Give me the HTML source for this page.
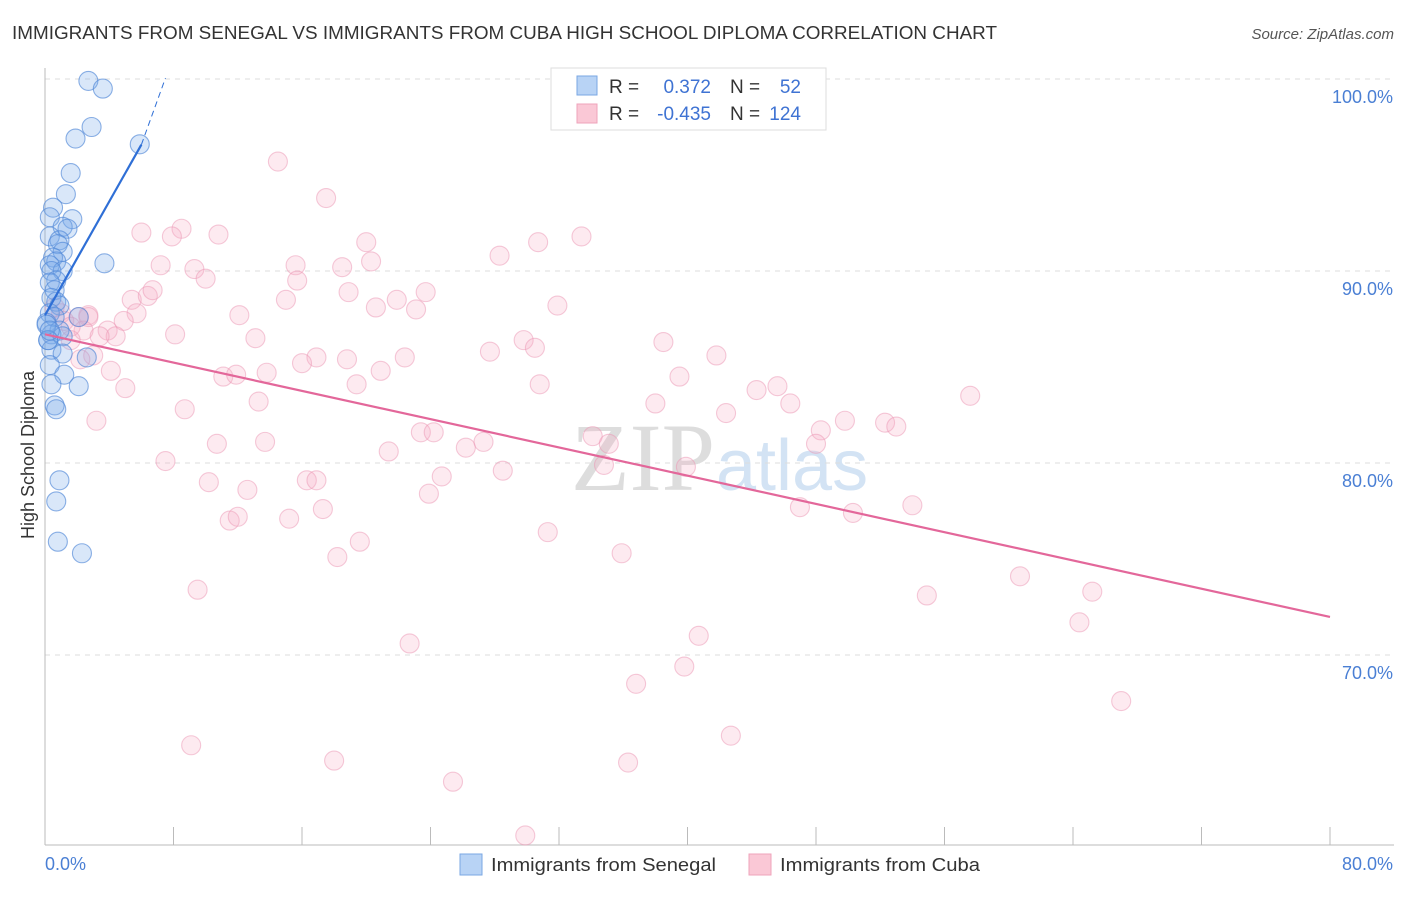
<!DOCTYPE html>
<html><head><meta charset="utf-8"><style>
body{margin:0;background:#fff;font-family:"Liberation Sans",sans-serif;}
</style></head><body>
<svg id="chart" width="1406" height="892" xmlns="http://www.w3.org/2000/svg">
<text x="12" y="39" font-size="18" fill="#333" textLength="985" lengthAdjust="spacingAndGlyphs">IMMIGRANTS FROM SENEGAL VS IMMIGRANTS FROM CUBA HIGH SCHOOL DIPLOMA CORRELATION CHART</text>
<text x="1394" y="39" font-size="15" fill="#555" font-style="italic" text-anchor="end">Source: ZipAtlas.com</text>
<text x="715" y="490" font-size="96" fill="#ddd" text-anchor="end" font-family="Liberation Serif,serif">ZIP</text>
<text x="716" y="490" font-size="72" fill="#d3e3f4">atlas</text>
<g id="grid"></g>
<g id="axes"></g>
<g id="pts"></g>
<g id="lines"></g>
<text transform="translate(34,455) rotate(-90)" font-size="18" fill="#333" text-anchor="middle">High School Diploma</text>
<text x="45" y="870" font-size="18" fill="#4a7fd4">0.0%</text>
<text x="1393" y="870" font-size="18" fill="#4a7fd4" text-anchor="end">80.0%</text>
<g>
<rect x="551" y="68" width="275" height="62" fill="#fff" stroke="#ddd"/>
<rect x="577" y="76" width="20" height="19" fill="#b8d3f5" stroke="#7aa7e3"/>
<rect x="577" y="104" width="20" height="19" fill="#fac8d6" stroke="#efa3bb"/>
<text x="609" y="93" font-size="19" fill="#333">R =</text>
<text x="711" y="93" font-size="19" fill="#3f73d3" text-anchor="end">0.372</text>
<text x="730" y="93" font-size="19" fill="#333">N =</text>
<text x="801" y="93" font-size="19" fill="#3f73d3" text-anchor="end">52</text>
<text x="609" y="120" font-size="19" fill="#333">R =</text>
<text x="711" y="120" font-size="19" fill="#3f73d3" text-anchor="end">-0.435</text>
<text x="730" y="120" font-size="19" fill="#333">N =</text>
<text x="801" y="120" font-size="19" fill="#3f73d3" text-anchor="end">124</text>
</g>
<g>
<rect x="460" y="854" width="22" height="21" fill="#b8d3f5" stroke="#7aa7e3"/>
<text x="491" y="871" font-size="18" fill="#333" textLength="225" lengthAdjust="spacingAndGlyphs">Immigrants from Senegal</text></g>
<g>
<rect x="749" y="854" width="22" height="21" fill="#fac8d6" stroke="#efa3bb"/>
<text x="780" y="871" font-size="18" fill="#333" textLength="200" lengthAdjust="spacingAndGlyphs">Immigrants from Cuba</text></g>
</svg>
<script>
const yTicks=[100,90,80,70];
const yTickLabels=["100.0%","90.0%","80.0%","70.0%"];
const xTicks=[0,8,16,24,32,40,48,56,64,72,80];
const blueX=[2.7,3.6,2.9,1.9,5.9,1.6,1.3,0.5,0.3,1.7,1.1,1.4,0.3,0.9,0.8,1.1,0.5,0.7,0.3,1.1,3.7,0.4,0.7,0.3,0.6,0.4,0.7,0.9,0.3,0.6,0.1,0.9,0.4,0.2,1.1,0.4,1.1,2.6,0.3,1.2,2.1,0.4,0.6,0.7,0.9,0.7,0.8,2.3,0.2,0.1,0.3,2.1];
const blueY=[99.9,99.5,97.5,96.9,96.6,95.1,94.0,93.3,92.8,92.7,92.3,92.2,91.8,91.6,91.4,91.0,90.7,90.5,90.3,90.0,90.4,90.0,89.5,89.4,89.0,88.6,88.4,88.2,87.8,87.6,87.3,86.9,86.7,86.4,86.6,85.9,85.7,85.5,85.1,84.6,84.0,84.1,83.0,82.8,79.1,78.0,75.9,75.3,86.4,87.2,86.9,87.6];
const pinkX=[14.5,17.5,8.5,6.0,7.9,10.8,20.0,30.7,33.4,28.3,20.3,7.2,9.3,10.0,15.6,18.5,15.7,5.4,6.4,6.7,5.7,4.9,18.9,15.0,21.9,23.7,20.6,23.1,31.9,12.1,13.1,8.1,3.9,4.4,2.7,2.4,3.4,3.0,1.0,0.6,1.2,2.7,2.1,1.6,16.9,18.8,16.0,22.4,27.7,29.8,30.5,38.5,41.8,11.1,11.9,13.8,19.4,20.9,30.8,39.5,44.3,45.6,5.0,4.1,8.7,13.3,38.0,42.4,46.4,57.6,3.2,10.7,13.7,23.4,24.2,26.2,27.3,34.1,35.1,48.3,49.8,52.3,53.0,48.0,7.5,21.4,28.5,34.8,39.9,10.2,12.6,16.3,16.9,24.7,23.9,11.5,12.0,15.2,17.3,47.0,50.3,54.0,19.6,31.3,35.9,18.2,60.7,9.5,54.9,65.2,64.4,40.7,22.7,39.8,36.8,67.0,9.1,18.0,42.7,36.3,25.4,29.9,1.6,2.2];
const pinkY=[95.7,93.8,92.2,92.0,91.8,91.9,91.5,91.5,91.8,90.8,90.5,90.3,90.1,89.6,90.3,90.2,89.5,88.5,88.7,89.0,87.8,87.4,88.9,88.5,88.5,88.9,88.1,88.0,88.2,87.7,86.5,86.7,86.9,86.6,87.7,86.9,86.6,85.6,87.8,88.1,87.4,87.6,87.6,87.1,85.5,85.4,85.2,85.5,85.8,86.4,86.0,86.3,85.6,84.5,84.6,84.7,84.1,84.8,84.1,84.5,83.8,84.0,83.9,84.8,82.8,83.2,83.1,82.6,83.1,83.5,82.2,81.0,81.1,81.6,81.6,80.8,81.1,81.4,81.0,81.7,82.2,82.1,81.9,81.0,80.1,80.6,79.6,79.9,79.8,79.0,78.6,79.1,79.1,79.3,78.4,77.0,77.2,77.1,77.6,77.7,77.4,77.8,75.9,76.4,75.3,75.1,74.1,73.4,73.1,73.3,71.7,71.0,70.6,69.4,68.5,67.6,65.3,64.5,65.8,64.4,63.4,60.6,86.4,85.4];
const blueTrend=[87.7,1.48];
const pinkTrend=[86.7,-0.184];
const NS="http://www.w3.org/2000/svg";
const X=v=>45+v/80*1285;
const Y=v=>79+(100-v)*19.2;
function mk(t,a,p){const e=document.createElementNS(NS,t);for(const k in a)e.setAttribute(k,a[k]);document.getElementById(p).appendChild(e);return e;}
yTicks.forEach((t,i)=>{
 const l=mk('line',{x1:45,x2:1394,y1:Y(t),y2:Y(t),stroke:'#ddd','stroke-dasharray':'5,5'},'grid');
 
 
 const tx=mk('text',{x:1393,y:Y(t)+24,'font-size':18,fill:'#4a7fd4','text-anchor':'end'},'grid');
 tx.textContent=yTickLabels[i];
 
 
});
const ax=mk('line',{x1:45,x2:45,y1:68,y2:845,stroke:'#bbb'},'axes');


const bx=mk('line',{x1:45,x2:1394,y1:845,y2:845,stroke:'#bbb'},'axes');


xTicks.forEach(t=>{const l=mk('line',{x1:X(t),x2:X(t),y1:827,y2:845,stroke:'#bbb'},'axes');
 
 });
pinkX.forEach((x,i)=>{const c=mk('circle',{cx:X(x),cy:Y(pinkY[i]),r:9.5,fill:'rgba(246,170,196,0.25)',stroke:'rgba(235,150,180,0.5)','stroke-width':1.1},'pts');
 
 });
blueX.forEach((x,i)=>{const c=mk('circle',{cx:X(x),cy:Y(blueY[i]),r:9.5,fill:'rgba(120,170,235,0.28)',stroke:'rgba(80,135,215,0.65)','stroke-width':1.1},'pts');
 
 });
const pl=mk('line',{x1:X(0),y1:Y(pinkTrend[0]),x2:X(80),y2:Y(pinkTrend[0]+pinkTrend[1]*80),stroke:'#e3679a','stroke-width':2.2},'lines');


const b1=mk('line',{x1:X(0),y1:Y(blueTrend[0]),x2:X(6),y2:Y(blueTrend[0]+blueTrend[1]*6),stroke:'#2f6fd6','stroke-width':2.2},'lines');


const b2=mk('line',{x1:X(6),y1:Y(blueTrend[0]+blueTrend[1]*6),x2:X(7.5),y2:Y(100.05),stroke:'#2f6fd6','stroke-width':1,'stroke-dasharray':'6,4'},'lines');


</script>
</body></html>
